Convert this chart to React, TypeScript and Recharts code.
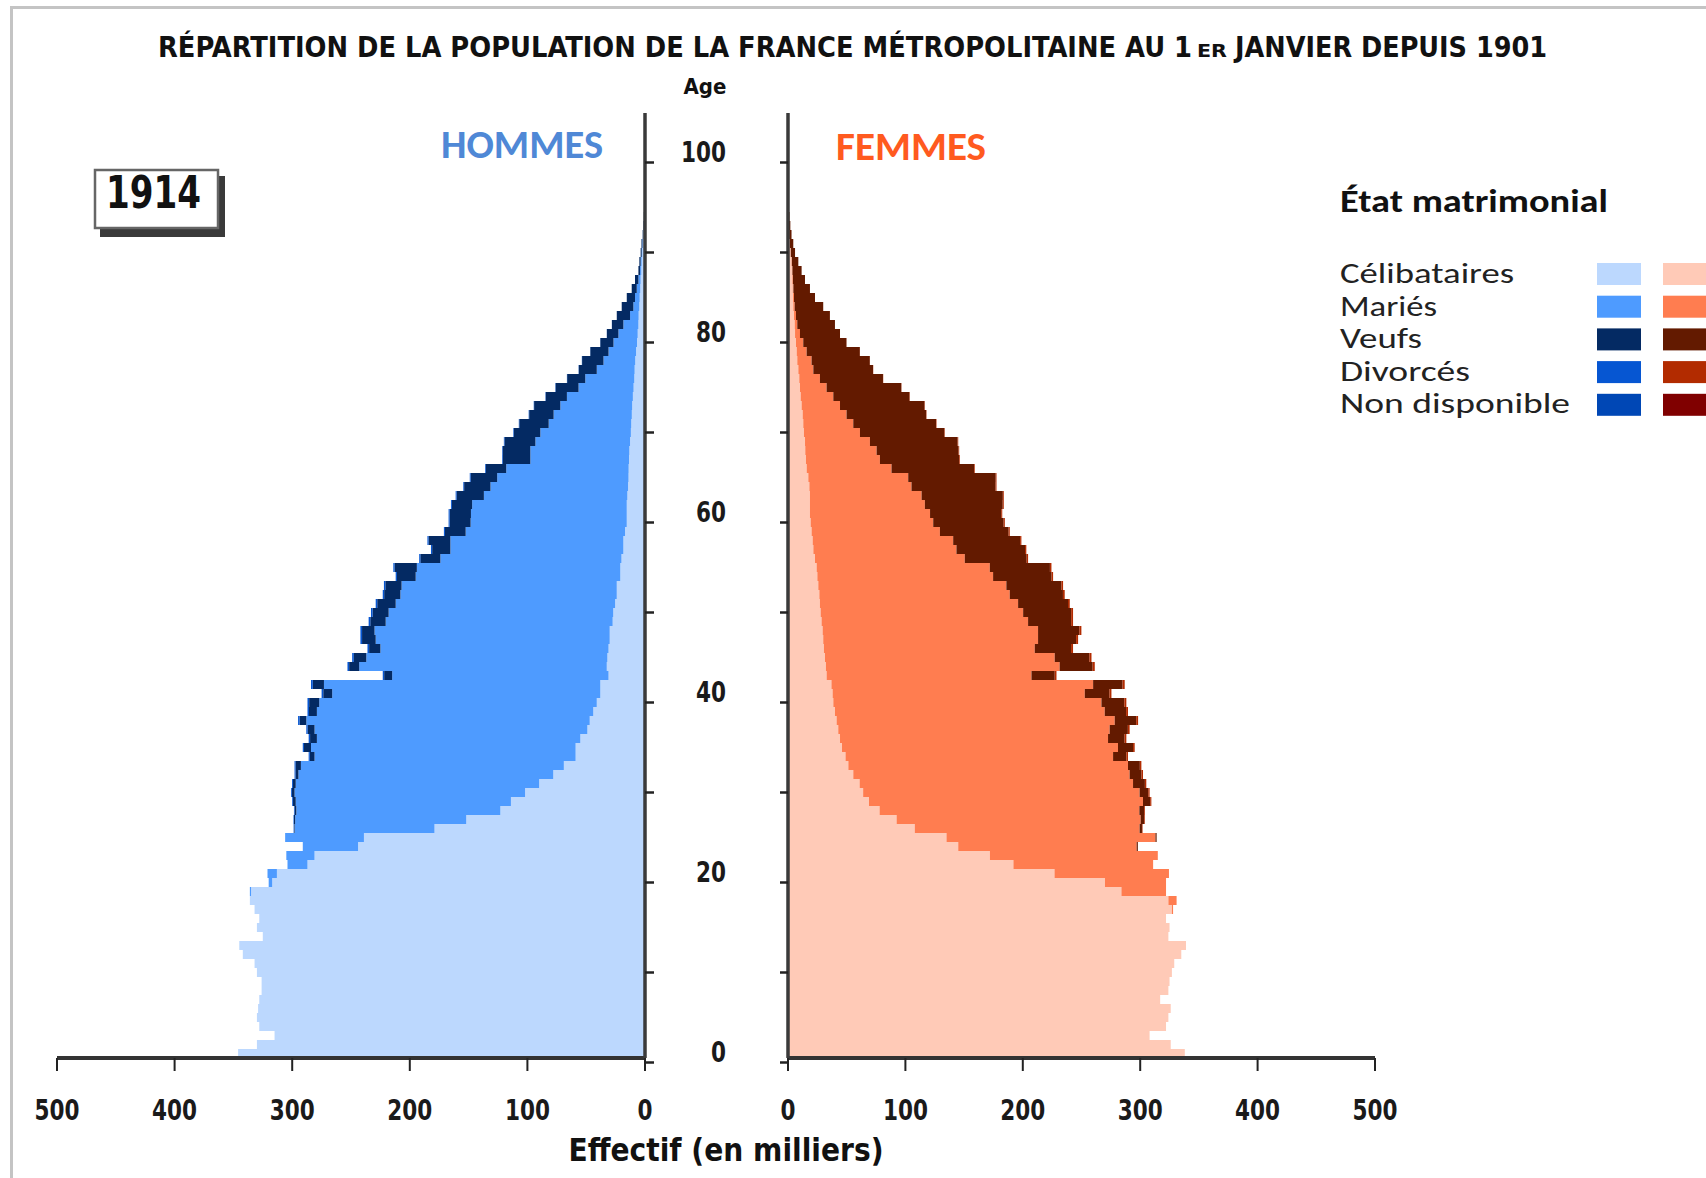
import React from "react";
import { BarChart, Bar, XAxis, YAxis } from "recharts";

// ---------- DATA (thousands, ages 0..104 at 1 January 1914) ----------
const AGES = [
  0, 1, 2, 3, 4, 5, 6, 7, 8, 9,
  10, 11, 12, 13, 14, 15, 16, 17, 18, 19,
  20, 21, 22, 23, 24, 25, 26, 27, 28, 29,
  30, 31, 32, 33, 34, 35, 36, 37, 38, 39,
  40, 41, 42, 43, 44, 45, 46, 47, 48, 49,
  50, 51, 52, 53, 54, 55, 56, 57, 58, 59,
  60, 61, 62, 63, 64, 65, 66, 67, 68, 69,
  70, 71, 72, 73, 74, 75, 76, 77, 78, 79,
  80, 81, 82, 83, 84, 85, 86, 87, 88, 89,
  90, 91, 92, 93, 94, 95, 96, 97, 98, 99,
  100, 101, 102, 103, 104,
];

const M_CEL = [
  346, 330, 315, 328, 330, 329, 328, 326, 326, 330,
  332, 342, 345, 325, 330, 328, 332, 336, 335, 317,
  313, 287, 281, 244, 239, 179, 152, 123, 114, 102,
  90, 78, 69, 59, 59, 55, 49, 47, 44, 41,
  38, 38, 31, 32.5, 32, 31, 30, 30, 27.5, 27,
  25.4, 24, 24, 21, 21, 20, 18.4, 18.4, 17, 15.5,
  15.5, 15.5, 15, 14.4, 14, 13.9, 13.6, 13.3, 12.7, 12,
  11.7, 11.2, 10.9, 10.3, 9.7, 9.1, 8.8, 8.3, 7.6, 6.8,
  6.2, 5.6, 5.4, 4.8, 4.5, 4, 3.7, 3.1, 2.8, 2.3,
  1.8, 1.2, 0.8, 0.5, 0.3, 0.2, 0.15, 0.1, 0.05, 0,
  0, 0, 0, 0, 0,
];
const M_MAR = [
  0, 0, 0, 0, 0, 0, 0, 0, 0, 0,
  0, 0, 0, 0, 0, 0, 0, 0, 1, 3,
  8, 17, 24, 47, 67, 119, 145.5, 173.5, 183, 196,
  207, 216.7, 223.6, 222, 225, 224, 232, 241, 235, 236,
  228, 235, 184, 210.5, 205, 194, 199, 200, 193, 191,
  186.6, 184, 183, 174, 173, 154, 147.1, 147.1, 135.5, 132.8,
  132.5, 131.5, 122, 117, 111.7, 104.1, 83.9, 84.2, 80.5, 77,
  70.2, 66.5, 61.1, 56.1, 46.8, 41.7, 32.2, 27, 23.4, 20,
  16.4, 12.8, 7.3, 5.1, 4, 3, 1.9, 1.1, 0.9, 0.5,
  0.4, 0.3, 0.2, 0.2, 0.1, 0.1, 0.05, 0, 0, 0,
  0, 0, 0, 0, 0,
];
const M_VEUF = [
  0, 0, 0, 0, 0, 0, 0, 0, 0, 0,
  0, 0, 0, 0, 0, 0, 0, 0, 0, 0,
  0, 0, 0, 0, 0, 0.5, 1, 1.5, 2.3, 2.3,
  2.3, 2.5, 4.5, 4, 6, 5.8, 5.8, 5.7, 6.7, 8.6,
  7.6, 9.5, 6.8, 8.6, 10.6, 9.6, 11.6, 10.6, 13.1, 13.7,
  15.7, 13.8, 13.8, 15.9, 18.9, 17, 15.5, 18.5, 17.6, 17.8,
  18.1, 17.2, 23.2, 22.4, 22.6, 17.4, 23.4, 23.5, 26.3, 22.5,
  25, 20.8, 22.3, 18, 19.5, 15.4, 15.3, 18.2, 15.5, 11.2,
  9.8, 9.7, 11.3, 9.9, 7, 4.3, 2.9, 1.4, 1.1, 0.9,
  0.8, 0.5, 0.4, 0.3, 0.2, 0.1, 0.1, 0.1, 0.05, 0,
  0, 0, 0, 0, 0,
];
const M_DIV = [
  0, 0, 0, 0, 0, 0, 0, 0, 0, 0,
  0, 0, 0, 0, 0, 0, 0, 0, 0, 0,
  0, 0, 0, 0, 0, 0.3, 0.4, 0.5, 0.7, 0.7,
  0.8, 0.8, 0.9, 1, 1, 1.2, 1.2, 1.3, 1.3, 1.4,
  1.4, 1.5, 1.2, 1.4, 1.4, 1.4, 1.4, 1.4, 1.4, 1.3,
  1.3, 1.2, 1.2, 1.1, 1.1, 1, 1, 1, 0.9, 0.9,
  0.9, 0.8, 0.8, 0.7, 0.7, 0.6, 0.6, 0.5, 0.5, 0.5,
  0.4, 0.4, 0.3, 0.3, 0.3, 0.2, 0.2, 0.2, 0.1, 0.1,
  0.1, 0.1, 0, 0, 0, 0, 0, 0, 0, 0,
  0, 0, 0, 0, 0, 0, 0, 0, 0, 0,
  0, 0, 0, 0, 0,
];

const F_CEL = [
  338, 326, 308, 322, 324, 326, 317, 324, 325, 327,
  329, 335, 339, 324, 325, 322, 327, 324, 284, 270,
  227, 192, 172, 145, 135, 108, 92.5, 78, 69, 64,
  61, 55.6, 51.4, 49, 46, 44.3, 42.8, 41.4, 40, 38.6,
  38, 37, 32.9, 32.3, 31.5, 30.6, 30, 29.5, 28.6, 27.8,
  27.2, 26.7, 25.8, 25, 24.4, 23, 21.6, 21, 20.1, 19.3,
  18.7, 18.7, 18.7, 18.2, 17.3, 15.9, 15.3, 14.7, 14.5, 13.6,
  13, 12.5, 11.6, 10.8, 10.2, 9.6, 8.8, 7.9, 7.4, 6.8,
  6, 5.7, 5.1, 4.5, 4.3, 4, 3.7, 3.4, 3, 2.2,
  1.6, 1, 0.7, 0.4, 0.3, 0.2, 0.1, 0.05, 0.05, 0,
  0, 0, 0, 0, 0,
];
const F_MAR = [
  0, 0, 0, 0, 0, 0, 0, 0, 0, 0,
  0, 0, 0, 0, 0, 0, 1, 7, 38, 52,
  97.5, 119, 143, 152, 178, 191.5, 207.9, 221.3, 233.4, 235.5,
  232.9, 235.4, 238.2, 227.9, 235.1, 228.3, 231.2, 236.9, 229.8, 228.4,
  214.8, 222.9, 174.5, 199.1, 195.7, 179.6, 183, 183.5, 175.9, 172.5,
  168.8, 162.2, 160.2, 149.7, 147.5, 127.6, 121.9, 119.7, 109.3, 104.4,
  102.3, 97.9, 95.1, 87, 85.1, 72.3, 63, 60.8, 55.3, 47.7,
  42.6, 37.4, 32.7, 27.8, 22.7, 17.6, 12.8, 12.2, 8.5, 6.2,
  4.2, 2.2, 1.7, 1.2, 0.8, 0.6, 0.5, 0.4, 0.3, 0.2,
  0.1, 0, 0, 0, 0, 0, 0, 0, 0, 0,
  0, 0, 0, 0, 0,
];
const F_VEUF = [
  0, 0, 0, 0, 0, 0, 0, 0, 0, 0,
  0, 0, 0, 0, 0, 0, 0, 0, 0, 0,
  0, 0, 0, 1, 1, 2, 3, 4, 6.1, 7.4,
  10.1, 10.1, 10.1, 11.3, 12.8, 14.1, 15.5, 18.3, 18.2, 19.5,
  21, 25.1, 19.8, 28.1, 29.5, 30.9, 32.4, 35.2, 36.7, 40.9,
  42.5, 45.3, 46.9, 49.8, 51.2, 52.7, 58.4, 57, 58.5, 60,
  60.6, 66.3, 69.2, 71.6, 74.5, 70.3, 67.5, 69.8, 74.7, 71.9,
  70.5, 67.8, 72, 64.9, 63.6, 53.7, 50.8, 49.6, 45.3, 36.8,
  34.1, 32.1, 28.9, 24.3, 17.9, 14.1, 10.3, 7.8, 5.5, 3.6,
  2.8, 2, 1.3, 0.9, 0.5, 0.3, 0.2, 0.15, 0.05, 0,
  0, 0, 0, 0, 0,
];
const F_DIV = [
  0, 0, 0, 0, 0, 0, 0, 0, 0, 0,
  0, 0, 0, 0, 0, 0, 0, 0, 0, 0,
  0, 0, 0, 0, 0, 0.5, 0.6, 0.7, 1, 1.1,
  1.2, 1.3, 1.3, 1.4, 1.4, 1.5, 1.5, 1.6, 1.6, 1.7,
  1.7, 1.8, 1.5, 1.8, 1.8, 1.7, 1.7, 1.7, 1.6, 1.6,
  1.5, 1.5, 1.4, 1.3, 1.3, 1.2, 1.1, 1.1, 1, 1,
  0.9, 0.9, 0.8, 0.8, 0.7, 0.6, 0.6, 0.5, 0.5, 0.4,
  0.4, 0.3, 0.3, 0.3, 0.2, 0.2, 0.2, 0.1, 0.1, 0.1,
  0, 0, 0, 0, 0, 0, 0, 0, 0, 0,
  0, 0, 0, 0, 0, 0, 0, 0, 0, 0,
  0, 0, 0, 0, 0,
];

const X_TICKS = [0, 100, 200, 300, 400, 500];
const LEGEND_LABELS = ["Célibataires", "Mariés", "Veufs", "Divorcés", "Non disponible"];

// ---------- STYLE ----------
const NARROW = "'Liberation Sans Narrow', 'Arial Narrow', 'DejaVu Sans Condensed', sans-serif";
const HUMAN = "Carlito, Calibri, 'Open Sans', 'Noto Sans', sans-serif";

const M_COLORS = ["#bcd8fe", "#4e9bff", "#042a63", "#0656d2", "#0047b5"];
const F_COLORS = ["#ffcab7", "#ff7d50", "#631a00", "#b22b00", "#800000"];
const LEGEND_WIDTHS = [174, 97, 82, 130, 230];
const DIGIT_W = 15;

const CHART_H = 1178;
const MARGIN_TOP = 113;
const MARGIN_BOTTOM = 60;
const X_AXIS_H = 60;
const BAND = (CHART_H - MARGIN_TOP - MARGIN_BOTTOM - X_AXIS_H) / AGES.length;

const maleData = AGES.map((age, i) => ({
  age,
  cel: M_CEL[i],
  mar: M_MAR[i],
  veuf: M_VEUF[i],
  div: M_DIV[i],
}));
const femaleData = AGES.map((age, i) => ({
  age,
  cel: F_CEL[i],
  mar: F_MAR[i],
  veuf: F_VEUF[i],
  div: F_DIV[i],
}));

function NumText({ x, y, value, anchor }: { x: number; y: number; value: number; anchor: string }) {
  const s = String(value);
  return (
    <text
      x={x}
      y={y}
      textAnchor={anchor}
      fontFamily={NARROW}
      fontWeight={700}
      fontSize={29}
      fill="#1a1a1a"
      textLength={s.length * DIGIT_W}
      lengthAdjust="spacingAndGlyphs"
    >
      {s}
    </text>
  );
}

function MaleAgeTick(props: any) {
  const { x, y } = props;
  const ty = y + BAND;
  return <line x1={x} x2={x + 9} y1={ty} y2={ty} stroke="#222" strokeWidth={2.5} />;
}

function FemaleAgeTick(props: any) {
  const { x, y, payload } = props;
  const ty = y + BAND;
  return (
    <g>
      <line x1={x - 8} x2={x} y1={ty} y2={ty} stroke="#222" strokeWidth={2.5} />
      {payload.value % 20 === 0 ? (
        <NumText x={x - 62} y={ty - 1} value={payload.value} anchor="end" />
      ) : null}
    </g>
  );
}

function XTick(props: any) {
  const { x, y, payload } = props;
  return <NumText x={x} y={y + 19} value={payload.value} anchor="middle" />;
}

function Pyramid({ data, colors, male }: { data: any[]; colors: string[]; male: boolean }) {
  const width = male ? 700 : 780;
  return (
    <BarChart
      width={width}
      height={CHART_H}
      data={data}
      layout="vertical"
      barCategoryGap={0}
      barGap={0}
      margin={
        male
          ? { top: MARGIN_TOP, right: 45, bottom: MARGIN_BOTTOM, left: 57 }
          : { top: MARGIN_TOP, right: 65, bottom: MARGIN_BOTTOM, left: 0 }
      }
    >
      <XAxis
        type="number"
        domain={[0, 500]}
        ticks={X_TICKS}
        interval={0}
        reversed={male}
        height={X_AXIS_H}
        tickSize={13}
        tickMargin={30}
        axisLine={{ stroke: "#333", strokeWidth: 4 }}
        tickLine={{ stroke: "#222", strokeWidth: 2 }}
        tick={<XTick />}
      />
      <YAxis
        type="category"
        dataKey="age"
        reversed
        orientation={male ? "right" : "left"}
        width={male ? 10 : 128}
        interval={9}
        tickSize={0}
        tickMargin={0}
        tickLine={false}
        axisLine={{ stroke: "#3a3a3a", strokeWidth: 3.5 }}
        tick={male ? <MaleAgeTick /> : <FemaleAgeTick />}
      />
      <Bar dataKey="cel" stackId="s" fill={colors[0]} isAnimationActive={false} />
      <Bar dataKey="mar" stackId="s" fill={colors[1]} isAnimationActive={false} />
      <Bar dataKey="veuf" stackId="s" fill={colors[2]} isAnimationActive={false} />
      <Bar dataKey="div" stackId="s" fill={colors[3]} isAnimationActive={false} />
    </BarChart>
  );
}

function Overlay() {
  const titleProps = {
    fontFamily: NARROW,
    fontWeight: 700,
    fill: "#111",
    lengthAdjust: "spacingAndGlyphs",
  } as any;
  return (
    <svg
      width={1706}
      height={1178}
      style={{ position: "absolute", left: 0, top: 0, pointerEvents: "none" }}
    >
      <path d="M11.5 1178 V7.5 H1706" stroke="#c4c4c4" strokeWidth={3} fill="none" />
      <text x={158} y={57} fontSize={28} textLength={1034} {...titleProps}>
        RÉPARTITION DE LA POPULATION DE LA FRANCE MÉTROPOLITAINE AU 1
      </text>
      <text x={1197} y={57} fontSize={17} textLength={30} {...titleProps}>
        ER
      </text>
      <text x={1235} y={57} fontSize={28} textLength={312} {...titleProps}>
        JANVIER DEPUIS 1901
      </text>
      <text x={705} y={94} textAnchor="middle" fontFamily={NARROW} fontWeight={700} fontSize={22} fill="#111">
        Age
      </text>
      <text
        x={441}
        y={158}
        fontFamily={HUMAN}
        fontWeight={700}
        fontSize={40}
        fill="#4f88d6"
        textLength={162}
        lengthAdjust="spacingAndGlyphs"
      >
        HOMMES
      </text>
      <text
        x={836}
        y={160}
        fontFamily={HUMAN}
        fontWeight={700}
        fontSize={40}
        fill="#ff5a1f"
        textLength={150}
        lengthAdjust="spacingAndGlyphs"
      >
        FEMMES
      </text>

      <rect x={100} y={176} width={125} height={61} fill="#3a3a3a" />
      <rect x={95} y={170} width={123} height={58} fill="#fff" stroke="#666" strokeWidth={2.5} />
      <text
        x={106}
        y={208}
        fontFamily={NARROW}
        fontWeight={700}
        fontSize={44}
        fill="#111"
        textLength={95}
        lengthAdjust="spacingAndGlyphs"
      >
        1914
      </text>

      <text
        x={1340}
        y={212}
        fontFamily={HUMAN}
        fontWeight={700}
        fontSize={33}
        fill="#111"
        textLength={268}
        lengthAdjust="spacingAndGlyphs"
      >
        État matrimonial
      </text>
      {LEGEND_LABELS.map((label, i) => (
        <g key={label}>
          <text
            x={1340}
            y={283 + i * 32.5}
            fontFamily={HUMAN}
            fontSize={29}
            fill="#222"
            textLength={LEGEND_WIDTHS[i]}
            lengthAdjust="spacingAndGlyphs"
          >
            {label}
          </text>
          <rect x={1597} y={263 + i * 32.7} width={44} height={22} fill={M_COLORS[i]} />
          <rect x={1663} y={263 + i * 32.7} width={44} height={22} fill={F_COLORS[i]} />
        </g>
      ))}

      <text
        x={726}
        y={1161}
        textAnchor="middle"
        fontFamily={NARROW}
        fontWeight={700}
        fontSize={32}
        fill="#111"
        textLength={315}
        lengthAdjust="spacingAndGlyphs"
      >
        Effectif (en milliers)
      </text>
    </svg>
  );
}

export default function App() {
  return (
    <div
      style={{
        position: "absolute",
        left: 0,
        top: 0,
        width: 1706,
        height: 1178,
        background: "#fff",
        overflow: "hidden",
      }}
    >
      <div style={{ position: "absolute", left: 0, top: 0 }}>
        <Pyramid data={maleData} colors={M_COLORS} male={true} />
      </div>
      <div style={{ position: "absolute", left: 660, top: 0 }}>
        <Pyramid data={femaleData} colors={F_COLORS} male={false} />
      </div>
      <Overlay />
    </div>
  );
}
